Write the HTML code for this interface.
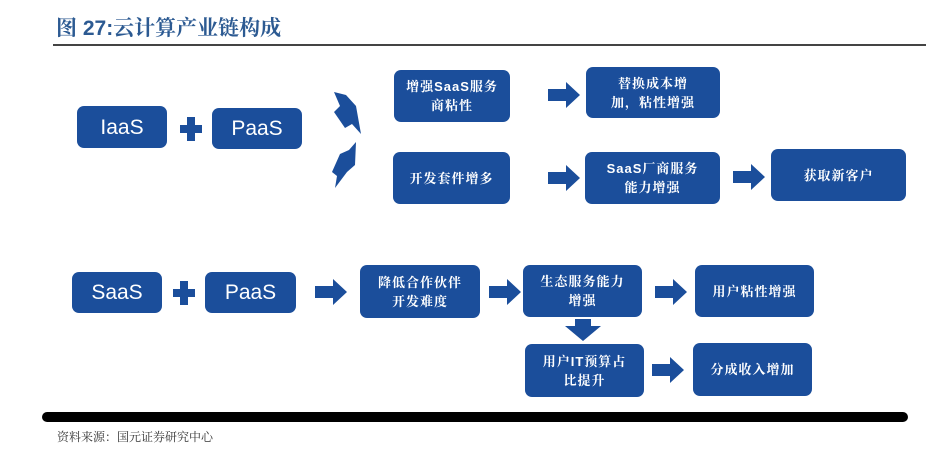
<!DOCTYPE html>
<html><head><meta charset="utf-8"><style>
body{margin:0;width:926px;height:452px;background:#fff;position:relative;overflow:hidden;font-family:"Liberation Sans","Noto Sans CJK SC",sans-serif}
.t{position:absolute;left:56px;top:12px;font-size:21px;font-weight:bold;color:#2c5a92;font-family:"Liberation Sans","Noto Serif CJK SC",sans-serif}
.hl{position:absolute;left:53px;top:44px;width:873px;height:2px;background:#444}
.b{position:absolute;background:#1b4e9b;border-radius:7px;color:#fff;display:flex;align-items:center;justify-content:center;text-align:center;font-size:13px;font-weight:bold;line-height:19px;letter-spacing:1px;font-family:"Liberation Sans","Noto Serif CJK SC",sans-serif}
.big{font-size:21px;font-weight:normal;letter-spacing:0;font-family:"Liberation Sans",sans-serif}
svg{position:absolute;left:0;top:0}
.bar{position:absolute;left:42px;top:412px;width:866px;height:10px;background:#000;border-radius:5px}
.f{position:absolute;left:57px;top:428px;font-size:12px;color:#333;font-family:"Liberation Sans","Noto Serif CJK SC",sans-serif}
</style></head><body>
<div class="t">图 27:云计算产业链构成</div>
<div class="hl"></div>
<div class="b big" style="left:77px;top:106px;width:90px;height:42px">IaaS</div>
<div class="b big" style="left:212px;top:108px;width:90px;height:41px">PaaS</div>
<div class="b" style="left:394px;top:70px;width:116px;height:52px">增强SaaS服务<br>商粘性</div>
<div class="b" style="left:586px;top:67px;width:134px;height:51px">替换成本增<br>加，粘性增强</div>
<div class="b" style="left:393px;top:152px;width:117px;height:52px">开发套件增多</div>
<div class="b" style="left:585px;top:152px;width:135px;height:52px">SaaS厂商服务<br>能力增强</div>
<div class="b" style="left:771px;top:149px;width:135px;height:52px">获取新客户</div>
<div class="b big" style="left:72px;top:272px;width:90px;height:41px">SaaS</div>
<div class="b big" style="left:205px;top:272px;width:91px;height:41px">PaaS</div>
<div class="b" style="left:360px;top:265px;width:120px;height:53px">降低合作伙伴<br>开发难度</div>
<div class="b" style="left:523px;top:265px;width:119px;height:52px">生态服务能力<br>增强</div>
<div class="b" style="left:695px;top:265px;width:119px;height:52px">用户粘性增强</div>
<div class="b" style="left:525px;top:344px;width:119px;height:53px">用户IT预算占<br>比提升</div>
<div class="b" style="left:693px;top:343px;width:119px;height:53px">分成收入增加</div>
<svg width="926" height="452" fill="#1b4e9b">
<defs><polygon id="ar" points="0,-6 18,-6 18,-13 32,0 18,13 18,6 0,6"/></defs>
<rect x="180" y="125" width="22" height="8"/><rect x="187" y="117" width="8" height="24"/>
<rect x="173" y="289" width="22" height="8"/><rect x="180" y="281" width="8" height="24"/>
<polygon points="334,92 346,95 356,106 361,134 352,124 345,128 334,112 340,106"/>
<polygon points="356,142 355,165 347,172 335,188 337,176 332,172 340,154 349,150"/>
<use href="#ar" transform="translate(548,95)"/>
<use href="#ar" transform="translate(548,178)"/>
<use href="#ar" transform="translate(733,177)"/>
<use href="#ar" transform="translate(315,292)"/>
<use href="#ar" transform="translate(489,292)"/>
<use href="#ar" transform="translate(655,292)"/>
<use href="#ar" transform="translate(652,370)"/>
<polygon points="575,319 591,319 591,326 601,326 583,341 565,326 575,326"/>
</svg>
<div class="bar"></div>
<div class="f">资料来源：国元证券研究中心</div>
</body></html>
